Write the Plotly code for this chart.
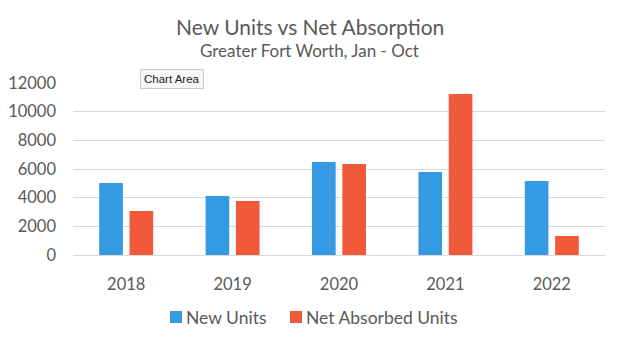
import plotly.graph_objects as go

years = ["2018", "2019", "2020", "2021", "2022"]
new_units = [5030, 4120, 6490, 5790, 5160]
net_absorbed = [3070, 3770, 6350, 11230, 1330]
y_ticks = [0, 2000, 4000, 6000, 8000, 10000, 12000]
series_names = ["New Units", "Net Absorbed Units"]
series_colors = ["#339AE3", "#F05A3A"]

FONT = "Lato"
GREY = "#595959"
W, H = 619, 343
L, R, T, B = 73, 14, 83, 88
PW, PH = W - L - R, H - T - B


def px(x):
    return (x - L) / PW


def py(y):
    return (H - B - y) / PH


fig = go.Figure()
for name, vals, col in zip(series_names, [new_units, net_absorbed], series_colors):
    fig.add_trace(go.Bar(x=years, y=vals, name=name, marker_color=col))

fig.update_layout(
    template="none",
    width=W, height=H,
    margin=dict(l=L, r=R, t=T, b=B, autoexpand=False),
    paper_bgcolor="white", plot_bgcolor="white",
    barmode="group", bargap=0.43, bargroupgap=0.22,
    font=dict(family=FONT, color=GREY, size=16),
    showlegend=False,
    xaxis=dict(showgrid=False, showline=False, ticks="", tickfont=dict(size=16.5, color=GREY),
               ticklabelstandoff=17, automargin=False, zeroline=False),
    yaxis=dict(range=[0, 12000], tickvals=y_ticks, ticktext=[str(v) for v in y_ticks],
               showgrid=True, gridcolor="#D9D9D9", gridwidth=1, zeroline=True,
               zerolinecolor="#D9D9D9", zerolinewidth=1, showline=False, ticks="",
               tickfont=dict(size=16.5, color=GREY), ticklabelstandoff=16, automargin=False),
)

fig.add_annotation(text="New Units vs Net Absorption", xref="paper", yref="paper",
                   x=px(W / 2), y=py(26), xanchor="center", yanchor="middle",
                   showarrow=False, font=dict(size=21, color=GREY, family=FONT))
fig.add_annotation(text="Greater Fort Worth, Jan - Oct", xref="paper", yref="paper",
                   x=px(W / 2), y=py(50), xanchor="center", yanchor="middle",
                   showarrow=False, font=dict(size=17, color=GREY, family=FONT))

# custom legend
legend_x = [170, 290]
for lx, name, col in zip(legend_x, series_names, series_colors):
    fig.add_shape(type="rect", xref="paper", yref="paper",
                  x0=px(lx), x1=px(lx + 12), y0=py(323), y1=py(311),
                  fillcolor=col, line=dict(width=0))
    fig.add_annotation(text=name, xref="paper", yref="paper",
                       x=px(lx + 14), y=py(317), xanchor="left", yanchor="middle",
                       showarrow=False, font=dict(size=17.5, color=GREY, family=FONT))

fig.add_annotation(text="Chart Area", xref="paper", yref="paper",
                   x=px(172), y=py(79), xanchor="center", yanchor="middle",
                   showarrow=False, font=dict(size=11.5, color="#222222", family="Liberation Sans"),
                   bgcolor="#F6F6F6", bordercolor="#C8C8C8", borderwidth=1, borderpad=3)

fig.write_html("out.html")
